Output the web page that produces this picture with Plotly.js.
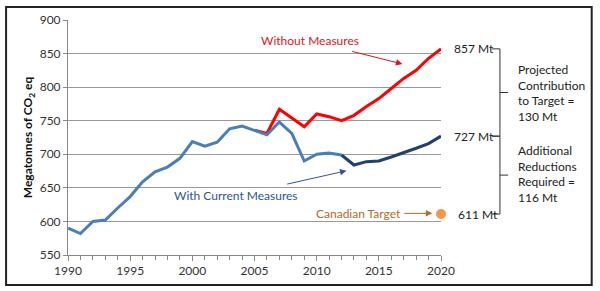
<!DOCTYPE html>
<html>
<head>
<meta charset="utf-8">
<script src="https://cdn.plot.ly/plotly-3.0.1.min.js"></script>
<style>
    html, body { margin: 0; padding: 0; background: #fff; }
    #chart { width: 600px; height: 291px; }
</style>
</head>
<body>
<div id="chart"></div>
<script>
    // Historique (1990-2012), projection avec mesures actuelles, projection sans mesures
    var anneesHisto = [1990, 1991, 1992, 1993, 1994, 1995, 1996, 1997, 1998, 1999, 2000, 2001,
                       2002, 2003, 2004, 2005, 2006, 2007, 2008, 2009, 2010, 2011, 2012];
    var valeursHisto = [590, 582, 600, 602, 620, 637, 659, 674, 681, 694, 719, 712,
                        718, 738, 742, 736, 729, 748, 731, 690, 700, 702, 699];

    var anneesProj = [2012, 2013, 2014, 2015, 2016, 2017, 2018, 2019, 2020];
    var valeursProj = [699, 684, 689, 690, 696, 702, 709, 716, 727];

    var anneesSansMesures = [2005, 2006, 2007, 2008, 2009, 2010, 2011, 2012,
                             2013, 2014, 2015, 2016, 2017, 2018, 2019, 2020];
    var valeursSansMesures = [736, 731, 767, 754, 741, 760, 756, 750,
                              758, 771, 783, 798, 813, 825, 843, 857];

    var anneeCible = [2020];
    var valeurCible = [611];

    var police = 'Lato, "Open Sans", sans-serif';

    var traces = [
        { x: anneesSansMesures, y: valeursSansMesures, mode: 'lines', cliponaxis: false,
          line: { color: '#FF0000', width: 3 }, hoverinfo: 'skip' },
        { x: anneesHisto, y: valeursHisto, mode: 'lines', cliponaxis: false,
          line: { color: '#4A7EBB', width: 3 }, hoverinfo: 'skip' },
        { x: anneesProj, y: valeursProj, mode: 'lines', cliponaxis: false,
          line: { color: '#1F3F75', width: 3 }, hoverinfo: 'skip' },
        { x: anneeCible, y: valeurCible, mode: 'markers', cliponaxis: false,
          marker: { color: '#F79646', size: 10 }, hoverinfo: 'skip' }
    ];

    // accolade droite : x en coordonnées papier, y en valeurs
    function accolade(yHaut, yBas) {
        var yMil = (yHaut + yBas) / 2;
        var style = { color: '#333', width: 1 };
        return [
            { type: 'line', xref: 'paper', yref: 'y', x0: 1.137, x1: 1.158, y0: yHaut, y1: yHaut, line: style },
            { type: 'line', xref: 'paper', yref: 'y', x0: 1.158, x1: 1.158, y0: yHaut, y1: yBas, line: style },
            { type: 'line', xref: 'paper', yref: 'y', x0: 1.137, x1: 1.158, y0: yBas, y1: yBas, line: style },
            { type: 'line', xref: 'paper', yref: 'y', x0: 1.158, x1: 1.18, y0: yMil, y1: yMil, line: style }
        ];
    }

    var formes = [
        { type: 'rect', xref: 'paper', yref: 'paper', x0: -0.166, x1: 1.404, y0: -0.128, y1: 1.055,
          line: { color: '#222', width: 2 } }
    ].concat(accolade(857, 727), accolade(727, 611));

    var texteNoir = { size: 12, color: '#222' };

    var annotations = [
        { x: 1.03, y: 857, xref: 'paper', yref: 'y', text: '857 Mt', showarrow: false, xanchor: 'left', font: texteNoir },
        { x: 1.03, y: 727, xref: 'paper', yref: 'y', text: '727 Mt', showarrow: false, xanchor: 'left', font: texteNoir },
        { x: 1.04, y: 611, xref: 'paper', yref: 'y', text: '611 Mt', showarrow: false, xanchor: 'left', font: texteNoir },
        { x: 1.2, y: 792, xref: 'paper', yref: 'y', text: 'Projected<br>Contribution<br>to Target =<br>130 Mt',
          showarrow: false, xanchor: 'left', align: 'left', font: texteNoir },
        { x: 1.2, y: 670, xref: 'paper', yref: 'y', text: 'Additional<br>Reductions<br>Required =<br>116 Mt',
          showarrow: false, xanchor: 'left', align: 'left', font: texteNoir },
        // étiquettes avec flèche : le texte est placé à la queue de la flèche
        { x: 2016.9, y: 834.5, text: 'Without Measures', showarrow: true, ax: -92, ay: -23,
          arrowhead: 2, arrowsize: 1.3, arrowwidth: 1, arrowcolor: '#E0141E', standoff: 0, startstandoff: 6,
          font: { size: 12, color: '#E0141E' } },
        { x: 2012.4, y: 675.5, text: 'With Current Measures', showarrow: true, ax: -111, ay: 25,
          arrowhead: 2, arrowsize: 1.3, arrowwidth: 1, arrowcolor: '#2F5597', standoff: 0, startstandoff: 12,
          font: { size: 12, color: '#2F5597' } },
        { x: 2019.3, y: 612, text: 'Canadian Target', showarrow: true, ax: -74, ay: 0,
          arrowhead: 2, arrowsize: 1.3, arrowwidth: 1, arrowcolor: '#B46A2C', standoff: 0, startstandoff: 2,
          font: { size: 12, color: '#B46A2C' } }
    ];

    var layout = {
        width: 600, height: 291,
        margin: { l: 68, r: 159, t: 20, b: 36 },
        paper_bgcolor: '#fff', plot_bgcolor: '#fff',
        showlegend: false,
        font: { family: police, size: 12, color: '#333' },
        xaxis: {
            range: [1990, 2020], dtick: 5, tick0: 1990, showgrid: false, zeroline: false,
            showline: true, linecolor: '#888', ticks: 'outside', ticklen: 5, tickcolor: '#888',
            minor: { dtick: 1, ticks: 'outside', ticklen: 4, tickcolor: '#888' },
            tickfont: { size: 12, color: '#333' }
        },
        yaxis: {
            range: [550, 900], dtick: 50, tick0: 550, showgrid: true, gridcolor: '#999', zeroline: false,
            showline: true, linecolor: '#888', ticks: 'outside', ticklen: 4, tickcolor: '#888',
            tickfont: { size: 12, color: '#333' },
            title: { text: '<b>Megatonnes of CO<sub>2</sub> eq</b>', font: { size: 12, color: '#111' }, standoff: 4 }
        },
        shapes: formes,
        annotations: annotations
    };

    Plotly.newPlot('chart', traces, layout, { displayModeBar: false, staticPlot: true });
</script>
</body>
</html>
